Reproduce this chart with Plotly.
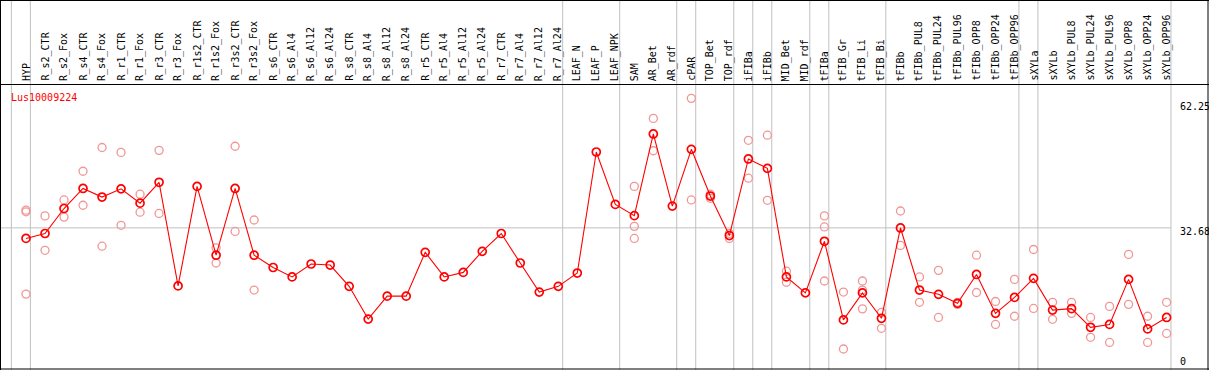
import plotly.graph_objects as go

categories = ["HYP", "R_s2_CTR", "R_s2_Fox", "R_s4_CTR", "R_s4_Fox", "R_r1_CTR", "R_r1_Fox",
              "R_r3_CTR", "R_r3_Fox", "R_r1s2_CTR", "R_r1s2_Fox", "R_r3s2_CTR", "R_r3s2_Fox",
              "R_s6_CTR", "R_s6_Al4", "R_s6_Al12", "R_s6_Al24", "R_s8_CTR", "R_s8_Al4",
              "R_s8_Al12", "R_s8_Al24", "R_r5_CTR", "R_r5_Al4", "R_r5_Al12", "R_r5_Al24",
              "R_r7_CTR", "R_r7_Al4", "R_r7_Al12", "R_r7_Al24", "LEAF_N", "LEAF_P", "LEAF_NPK",
              "SAM", "AR_Bet", "AR_rdf", "cPAR", "TOP_Bet", "TOP_rdf", "iFIBa", "iFIBb",
              "MID_Bet", "MID_rdf", "tFIBa", "tFIB_Gr", "tFIB_Li", "tFIB_Bi", "tFIBb",
              "tFIBb_PUL8", "tFIBb_PUL24", "tFIBb_PUL96", "tFIBb_OPP8", "tFIBb_OPP24",
              "tFIBb_OPP96", "sXYLa", "sXYLb", "sXYLb_PUL8", "sXYLb_PUL24", "sXYLb_PUL96",
              "sXYLb_OPP8", "sXYLb_OPP24", "sXYLb_OPP96"]

group_sizes = [1, 28, 3, 3, 1, 2, 1, 1, 2, 1, 3, 7, 1, 7]

means = [30.1, 31.3, 37.4, 42.3, 40.2, 42.2, 38.7, 43.8, 18.5, 42.8, 26.0, 42.3, 26.0,
         23.0, 20.7, 23.85, 23.6, 18.4, 10.4, 16.0, 16.0, 26.7, 20.7, 21.8, 26.95,
         31.3, 24.1, 17.0, 18.4, 21.65, 51.2, 38.4, 35.65, 55.6, 38.0, 51.85, 40.45,
         30.8, 49.5, 47.2, 20.7, 16.8, 29.4, 10.2, 16.8, 10.6, 32.65, 17.5, 16.45,
         14.25, 21.3, 11.8, 15.7, 20.35, 12.6, 12.95, 8.4, 9.1, 20.1, 8.0, 10.8]

replicates = [[37.0, 36.6, 16.5], [35.6, 27.2], [39.5, 35.3], [46.5, 38.2], [52.3, 28.2],
              [51.1, 33.3], [40.9, 36.5], [51.6, 36.2], [], [], [27.8, 24.1], [52.6, 31.8],
              [34.6, 17.5], [], [], [], [], [], [], [], [], [], [], [], [], [], [], [], [],
              [], [], [], [42.8, 33.05, 30.1], [59.4, 51.5], [], [64.3, 39.5], [40.9, 39.9],
              [31.3, 30.1], [54.05, 44.8], [55.3, 39.4], [22.1, 19.4], [], [35.6, 32.9, 19.7],
              [17.0, 3.1], [19.7, 17.5, 12.9], [12.05, 8.15], [36.8, 28.4], [20.7, 14.5],
              [22.3, 10.8], [14.5, 14.0], [26.0, 16.9], [14.7, 9.1], [20.1, 11.1],
              [27.4, 13.0], [14.5, 10.35], [14.5, 11.8], [10.8, 5.95], [13.5, 4.7],
              [26.2, 14.0], [11.1, 4.7], [14.5, 6.9]]

axis_ticks = [0, 32.68, 62.25]
gene_name = "Lus10009224"

W, H = 1209, 370
X0, X1 = -1.3677, 62.230
Y0, Y1 = -2.026, 88.31
FONT = "DejaVu Sans Mono"

idx = list(range(len(categories)))
rx, ry = [], []
for i, reps in enumerate(replicates):
    for v in reps:
        rx.append(i)
        ry.append(v)

fig = go.Figure()
fig.add_trace(go.Scatter(x=rx, y=ry, mode="markers", hoverinfo="skip",
                         marker=dict(symbol="circle-open", size=8,
                                     color="rgb(240,150,150)", line=dict(width=1.3))))
fig.add_trace(go.Scatter(x=idx, y=means, mode="lines+markers",
                         line=dict(color="#ff0000", width=1.1),
                         marker=dict(symbol="circle-open", size=8, color="#ff0000",
                                     line=dict(width=1.7))))

shapes = []
ends = [-1]
c = -1
for s in group_sizes:
    c += s
    ends.append(c)
for e in ends:
    shapes.append(dict(type="line", xref="x", yref="paper", x0=e + 0.23, x1=e + 0.23,
                       y0=0, y1=1, line=dict(color="#c0c0c0", width=1), layer="below"))
shapes.append(dict(type="line", xref="x", yref="y", x0=X0, x1=ends[-1] + 0.23,
                   y0=axis_ticks[1], y1=axis_ticks[1], line=dict(color="#c0c0c0", width=1),
                   layer="below"))
div_y = 1 - 84.5 / H
for (xa, ya, xb, yb) in [(0.5 / W, 0, 0.5 / W, 1), (1 - 1.0 / W, 0, 1 - 1.0 / W, 1),
                         (0, 1 - 0.5 / H, 1, 1 - 0.5 / H), (0, 1.0 / H, 1, 1.0 / H),
                         (0, div_y, 1, div_y)]:
    shapes.append(dict(type="line", xref="paper", yref="paper", x0=xa, x1=xb, y0=ya, y1=yb,
                       line=dict(color="black", width=1)))

annotations = []
for i, name in enumerate(categories):
    annotations.append(dict(x=i, y=1 - 83 / H, xref="x", yref="paper", text=name,
                            textangle=-90, showarrow=False, xanchor="center", yanchor="bottom",
                            font=dict(family=FONT, size=10, color="black")))
annotations.append(dict(x=9 / W, y=1 - 97 / H, xref="paper", yref="paper", text=gene_name,
                        showarrow=False, xanchor="left", yanchor="middle",
                        font=dict(family=FONT, size=10, color="#ff0000")))
for v, sh in zip(axis_ticks, [0, -4, 0]):
    annotations.append(dict(x=1177.5 / W, y=v, xref="paper", yref="y", text=str(v),
                            showarrow=False, xanchor="left", yanchor="middle", yshift=sh,
                            font=dict(family=FONT, size=10, color="black")))

fig.update_layout(
    width=W, height=H, autosize=False,
    margin=dict(l=0, r=0, t=0, b=0, pad=0),
    paper_bgcolor="white", plot_bgcolor="white",
    showlegend=False,
    xaxis=dict(range=[X0, X1], visible=False, fixedrange=True),
    yaxis=dict(range=[Y0, Y1], visible=False, fixedrange=True),
    shapes=shapes, annotations=annotations,
)
fig.write_html("out.html", config={"displayModeBar": False},
               post_script="document.body.style.margin='0';document.body.style.overflow='hidden';")
